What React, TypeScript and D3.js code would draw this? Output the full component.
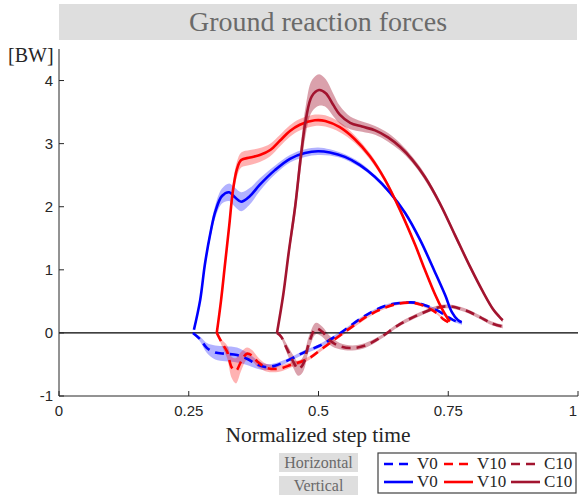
import React from 'react';
import * as d3 from 'd3';

// ---------- data ----------
const xTicks = [0, 0.25, 0.5, 0.75, 1];
const xTickLabels = ['0', '0.25', '0.5', '0.75', '1'];
const yTicks = [-1, 0, 1, 2, 3, 4];
const yTickLabels = ['-1', '0', '1', '2', '3', '4'];

// Vertical V0
const vV0T = [0.260, 0.272, 0.281, 0.291, 0.301, 0.314, 0.328, 0.339, 0.351, 0.368, 0.387, 0.416, 0.445, 0.474, 0.499, 0.522, 0.551, 0.580, 0.609, 0.638, 0.667, 0.696, 0.724, 0.744, 0.757, 0.769, 0.776];
const vV0M = [0.05, 0.52, 1.08, 1.55, 1.92, 2.17, 2.23, 2.15, 2.08, 2.17, 2.35, 2.58, 2.76, 2.85, 2.88, 2.86, 2.79, 2.66, 2.47, 2.22, 1.9, 1.47, 0.97, 0.6, 0.33, 0.2, 0.17];
const vV0S = [0.02, 0.04, 0.06, 0.08, 0.1, 0.12, 0.14, 0.15, 0.15, 0.13, 0.1, 0.07, 0.06, 0.06, 0.06, 0.05, 0.04, 0.04, 0.03, 0.03, 0.03, 0.03, 0.02, 0.02, 0.02, 0.02, 0.02];

// Vertical V10
const vV10T = [0.304, 0.312, 0.320, 0.328, 0.335, 0.343, 0.351, 0.368, 0.387, 0.407, 0.426, 0.445, 0.464, 0.493, 0.513, 0.541, 0.570, 0.599, 0.628, 0.657, 0.686, 0.705, 0.724, 0.738, 0.748, 0.753];
const vV10M = [0.0, 0.5, 1.1, 1.7, 2.25, 2.6, 2.74, 2.78, 2.82, 2.9, 3.05, 3.2, 3.3, 3.37, 3.36, 3.26, 3.07, 2.8, 2.43, 1.95, 1.4, 1.0, 0.62, 0.38, 0.24, 0.18];
const vV10S = [0.02, 0.05, 0.08, 0.1, 0.12, 0.12, 0.12, 0.12, 0.11, 0.1, 0.09, 0.09, 0.09, 0.09, 0.09, 0.08, 0.06, 0.05, 0.04, 0.04, 0.03, 0.03, 0.03, 0.03, 0.02, 0.02];

// Vertical C10
const vC10T = [0.420, 0.432, 0.443, 0.455, 0.466, 0.476, 0.487, 0.501, 0.514, 0.528, 0.541, 0.561, 0.584, 0.609, 0.634, 0.657, 0.680, 0.705, 0.734, 0.763, 0.792, 0.817, 0.836, 0.848, 0.855];
const vC10M = [0.0, 0.6, 1.3, 2.0, 2.8, 3.4, 3.75, 3.85, 3.8, 3.62, 3.46, 3.33, 3.27, 3.21, 3.1, 2.95, 2.75, 2.47, 2.05, 1.55, 1.05, 0.65, 0.38, 0.26, 0.2];
const vC10S = [0.02, 0.05, 0.1, 0.15, 0.2, 0.23, 0.25, 0.25, 0.22, 0.18, 0.14, 0.1, 0.08, 0.07, 0.07, 0.06, 0.05, 0.05, 0.04, 0.04, 0.04, 0.03, 0.03, 0.03, 0.03];

// Horizontal V0
const hV0T = [0.258, 0.272, 0.285, 0.301, 0.320, 0.343, 0.362, 0.382, 0.397, 0.416, 0.445, 0.474, 0.503, 0.528, 0.551, 0.580, 0.609, 0.638, 0.667, 0.686, 0.705, 0.728, 0.750, 0.763, 0.776];
const hV0M = [0.0, -0.1, -0.24, -0.31, -0.33, -0.35, -0.41, -0.5, -0.54, -0.52, -0.42, -0.3, -0.2, -0.08, 0.05, 0.22, 0.36, 0.45, 0.48, 0.48, 0.44, 0.36, 0.25, 0.19, 0.15];
const hV0S = [0.01, 0.04, 0.08, 0.11, 0.12, 0.12, 0.1, 0.07, 0.05, 0.04, 0.03, 0.03, 0.03, 0.03, 0.02, 0.02, 0.02, 0.02, 0.02, 0.02, 0.02, 0.02, 0.02, 0.02, 0.02];

// Horizontal V10
const hV10T = [0.304, 0.314, 0.324, 0.333, 0.341, 0.351, 0.362, 0.372, 0.383, 0.399, 0.422, 0.449, 0.478, 0.507, 0.538, 0.565, 0.593, 0.622, 0.651, 0.676, 0.696, 0.715, 0.730, 0.740, 0.750];
const hV10M = [0.0, -0.16, -0.3, -0.55, -0.6, -0.45, -0.33, -0.36, -0.46, -0.55, -0.57, -0.5, -0.42, -0.25, -0.06, 0.1, 0.26, 0.38, 0.46, 0.48, 0.45, 0.38, 0.3, 0.22, 0.17];
const hV10S = [0.01, 0.05, 0.1, 0.17, 0.2, 0.15, 0.1, 0.09, 0.08, 0.06, 0.05, 0.04, 0.03, 0.03, 0.03, 0.03, 0.03, 0.02, 0.02, 0.02, 0.02, 0.02, 0.02, 0.02, 0.02];

// Horizontal C10
const hC10T = [0.420, 0.428, 0.439, 0.451, 0.461, 0.470, 0.482, 0.495, 0.507, 0.522, 0.541, 0.565, 0.590, 0.618, 0.657, 0.696, 0.728, 0.753, 0.782, 0.811, 0.834, 0.855];
const hC10M = [0.0, -0.06, -0.25, -0.45, -0.57, -0.5, -0.15, 0.07, 0.02, -0.12, -0.21, -0.24, -0.2, -0.08, 0.14, 0.3, 0.4, 0.42, 0.36, 0.25, 0.15, 0.1];
const hC10S = [0.01, 0.03, 0.07, 0.1, 0.11, 0.12, 0.11, 0.09, 0.08, 0.07, 0.05, 0.04, 0.04, 0.03, 0.03, 0.03, 0.03, 0.03, 0.03, 0.03, 0.03, 0.03];

const legendNames = ['V0', 'V10', 'C10'];
const colors = ['#0000ff', '#ff0000', '#a2142f'];
const bandOpacity = [0.3, 0.3, 0.4];

// ---------- layout ----------
const W = 579, H = 495;
const x = d3.scaleLinear().domain([0, 1]).range([59, 578]);
const y = d3.scaleLinear().domain([-1, 4.5]).range([396, 49]);

const serif = "'Liberation Serif', 'Times New Roman', serif";
const sans = "'Liberation Sans', Arial, sans-serif";

type S = { t: number[]; m: number[]; s: number[]; c: number; dashed: boolean };
const series: S[] = [
  { t: hV0T, m: hV0M, s: hV0S, c: 0, dashed: true },
  { t: hV10T, m: hV10M, s: hV10S, c: 1, dashed: true },
  { t: hC10T, m: hC10M, s: hC10S, c: 2, dashed: true },
  { t: vV0T, m: vV0M, s: vV0S, c: 0, dashed: false },
  { t: vV10T, m: vV10M, s: vV10S, c: 1, dashed: false },
  { t: vC10T, m: vC10M, s: vC10S, c: 2, dashed: false },
];

const curve = d3.curveCatmullRom.alpha(0.5);

export default function App() {
  const lineGen = d3.line<number>().curve(curve);
  const areaGen = d3.area<number>().curve(curve);
  return (
    <svg width={W} height={H} style={{ position: 'absolute', left: 0, top: 0, background: '#fff' }}>
      {/* title */}
      <rect x={59} y={4} width={518} height={36} fill="#dedede" />
      <text x={318} y={31} textAnchor="middle" fontFamily={serif} fontSize={28} fill="#6a6a6a">Ground reaction forces</text>
      {/* y unit */}
      <text x={8} y={62} fontFamily={serif} fontSize={20} fill="#262626">[BW]</text>

      {/* bands */}
      {series.map((sr, i) => {
        const idx = sr.t.map((_, k) => k);
        const d = areaGen
          .x((k) => x(sr.t[k]))
          .y0((k) => y(sr.m[k] - sr.s[k]))
          .y1((k) => y(sr.m[k] + sr.s[k]))(idx) || '';
        return <path key={'b' + i} d={d} fill={colors[sr.c]} fillOpacity={bandOpacity[sr.c]} stroke="none" />;
      })}

      {/* zero line */}
      <line x1={x(0)} x2={x(1)} y1={y(0)} y2={y(0)} stroke="#000" strokeWidth={1.2} />

      {/* lines */}
      {series.map((sr, i) => {
        const idx = sr.t.map((_, k) => k);
        const d = lineGen.x((k) => x(sr.t[k])).y((k) => y(sr.m[k]))(idx) || '';
        return (
          <path key={'l' + i} d={d} fill="none" stroke={colors[sr.c]} strokeWidth={2.6}
            strokeDasharray={sr.dashed ? '9,6' : undefined} strokeLinejoin="round" />
        );
      })}

      {/* axes */}
      <line x1={x(0)} x2={x(0)} y1={y(4.5)} y2={y(-1)} stroke="#262626" strokeWidth={1} />
      <line x1={x(0)} x2={x(1)} y1={y(-1)} y2={y(-1)} stroke="#262626" strokeWidth={1} />
      {yTicks.map((v, i) => (
        <g key={'yt' + i}>
          <line x1={x(0)} x2={x(0) + 5} y1={y(v)} y2={y(v)} stroke="#262626" />
          <text x={x(0) - 6} y={y(v) + 5} textAnchor="end" fontFamily={sans} fontSize={15} fill="#262626">{yTickLabels[i]}</text>
        </g>
      ))}
      {xTicks.map((v, i) => (
        <g key={'xt' + i}>
          <line x1={x(v)} x2={x(v)} y1={y(-1)} y2={y(-1) - 5} stroke="#262626" />
          <text x={Math.min(x(v), 573)} y={y(-1) + 20} textAnchor="middle" fontFamily={sans} fontSize={15} fill="#262626">{xTickLabels[i]}</text>
        </g>
      ))}
      <text x={318} y={442} textAnchor="middle" fontFamily={serif} fontSize={21.5} fill="#262626">Normalized step time</text>

      {/* legend */}
      <rect x={279} y={453} width={79} height={19} fill="#dedede" />
      <text x={318.5} y={468} textAnchor="middle" fontFamily={serif} fontSize={16} fill="#6a6a6a">Horizontal</text>
      <rect x={279} y={476} width={79} height={19} fill="#dedede" />
      <text x={318.5} y={491} textAnchor="middle" fontFamily={serif} fontSize={16} fill="#6a6a6a">Vertical</text>

      <rect x={378} y={453} width={198} height={40} fill="#fff" stroke="#404040" strokeWidth={1.2} />
      {legendNames.map((n, i) => {
        const lx = [384, 444, 511][i];
        return (
          <g key={'lg' + i}>
            <line x1={lx} x2={lx + 29} y1={464} y2={464} stroke={colors[i]} strokeWidth={2.6} strokeDasharray="9,6" />
            <text x={lx + 33} y={469} fontFamily={serif} fontSize={17} fill="#262626">{n}</text>
            <line x1={lx} x2={lx + 29} y1={482} y2={482} stroke={colors[i]} strokeWidth={2.6} />
            <text x={lx + 33} y={487} fontFamily={serif} fontSize={17} fill="#262626">{n}</text>
          </g>
        );
      })}
    </svg>
  );
}
